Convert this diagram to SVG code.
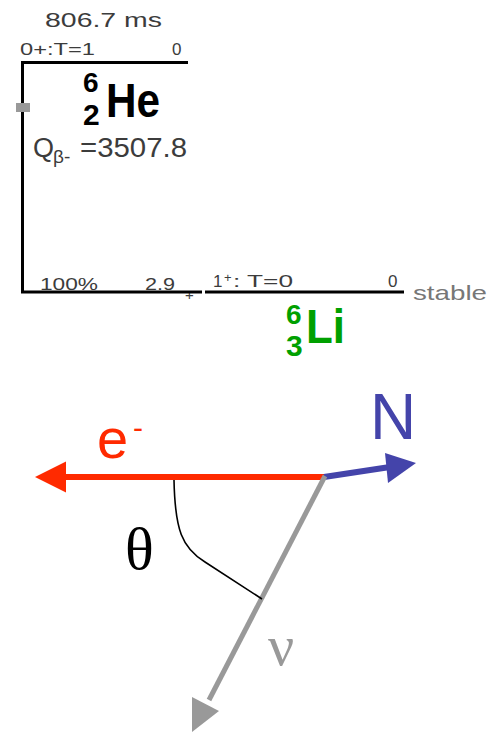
<svg xmlns="http://www.w3.org/2000/svg" width="489" height="735" viewBox="0 0 489 735">
<style>
.t{font-family:"Liberation Sans",Arial,sans-serif;fill:#3c3c3c}
.lvl{stroke:#000;stroke-width:3;fill:none}
</style>
<rect width="489" height="735" fill="#fff"/>
<g id="he6">
<text class="t" x="45" y="27" font-size="20" textLength="117" lengthAdjust="spacingAndGlyphs">806.7 ms</text>
<text class="t" x="20" y="55" font-size="17" textLength="75" lengthAdjust="spacingAndGlyphs">0+:T=1</text>
<text class="t" x="172" y="55" font-size="17">0</text>
<path class="lvl" d="M21,62.5 H188 M22.5,61 V293"/>
<rect x="16" y="103" width="14" height="9" fill="#999"/>
<text x="83" y="92" font-family="Liberation Sans,Arial,sans-serif" font-size="28" font-weight="bold" fill="#000">6</text>
<text x="83" y="125" font-family="Liberation Sans,Arial,sans-serif" font-size="30" font-weight="bold" fill="#000">2</text>
<text x="106" y="117" font-family="Liberation Sans,Arial,sans-serif" font-size="48" font-weight="bold" fill="#000" textLength="54" lengthAdjust="spacingAndGlyphs">He</text>
<text class="t" x="33" y="157" font-size="27">Q</text>
<text class="t" x="53" y="163" font-size="19">β-</text>
<text class="t" x="80" y="157" font-size="27" textLength="107" lengthAdjust="spacingAndGlyphs">=3507.8</text>
</g>
<g id="li6">
<text class="t" x="40" y="290" font-size="17" textLength="58" lengthAdjust="spacingAndGlyphs">100%</text>
<text class="t" x="145" y="290" font-size="17" textLength="30" lengthAdjust="spacingAndGlyphs">2.9</text>
<text class="t" x="185" y="300" font-size="15">+</text>
<path class="lvl" d="M21,292 H202 M205,292 H404"/>
<text class="t" x="213" y="287" font-size="17">1</text>
<text class="t" x="224" y="282" font-size="13">+</text>
<text class="t" x="233" y="287" font-size="17" textLength="60" lengthAdjust="spacingAndGlyphs">: T=0</text>
<text class="t" x="388" y="287" font-size="17">0</text>
<text x="413" y="300" font-family="Liberation Sans,Arial,sans-serif" font-size="21" fill="#777" textLength="74" lengthAdjust="spacingAndGlyphs">stable</text>
<text x="286" y="324" font-family="Liberation Sans,Arial,sans-serif" font-size="28" font-weight="bold" fill="#00a000">6</text>
<text x="286" y="356" font-family="Liberation Sans,Arial,sans-serif" font-size="30" font-weight="bold" fill="#00a000">3</text>
<text x="306" y="343" font-family="Liberation Sans,Arial,sans-serif" font-size="48" font-weight="bold" fill="#00a000" textLength="39" lengthAdjust="spacingAndGlyphs">Li</text>
</g>
<g id="connectors">
<path d="M325,477 L64,477" stroke="#ff2a00" stroke-width="6" fill="none"/>
<path d="M35,477 L66,461.5 L66,492.5 z" fill="#ff2a00"/>
<path d="M324,477 L390,467" stroke="#4444aa" stroke-width="6" fill="none"/>
<path d="M416,463 L388,483 L385,453 z" fill="#4444aa"/>
<path d="M325,476 L209,700" stroke="#999" stroke-width="5" fill="none"/>
<path d="M192,732 L192,697 L219,711 z" fill="#999"/>
<path d="M174,480 C175,530 182,548 205,562 C225,575 245,588 262,599" stroke="#000" stroke-width="1.6" fill="none"/>
</g>
<g id="labels">
<text x="97" y="458" font-family="Liberation Sans,Arial,sans-serif" font-size="56" fill="#ff2a00">e</text>
<text x="133" y="438" font-family="Liberation Sans,Arial,sans-serif" font-size="30" fill="#ff2a00">-</text>
<text x="370" y="439" font-family="Liberation Sans,Arial,sans-serif" font-size="64" fill="#4444aa">N</text>
<text x="125" y="569" font-family="Liberation Serif,Times New Roman,serif" font-size="60" fill="#000">θ</text>
<text x="268" y="665" font-family="Liberation Serif,Times New Roman,serif" font-size="58" fill="#999">ν</text>
</g>
</svg>
